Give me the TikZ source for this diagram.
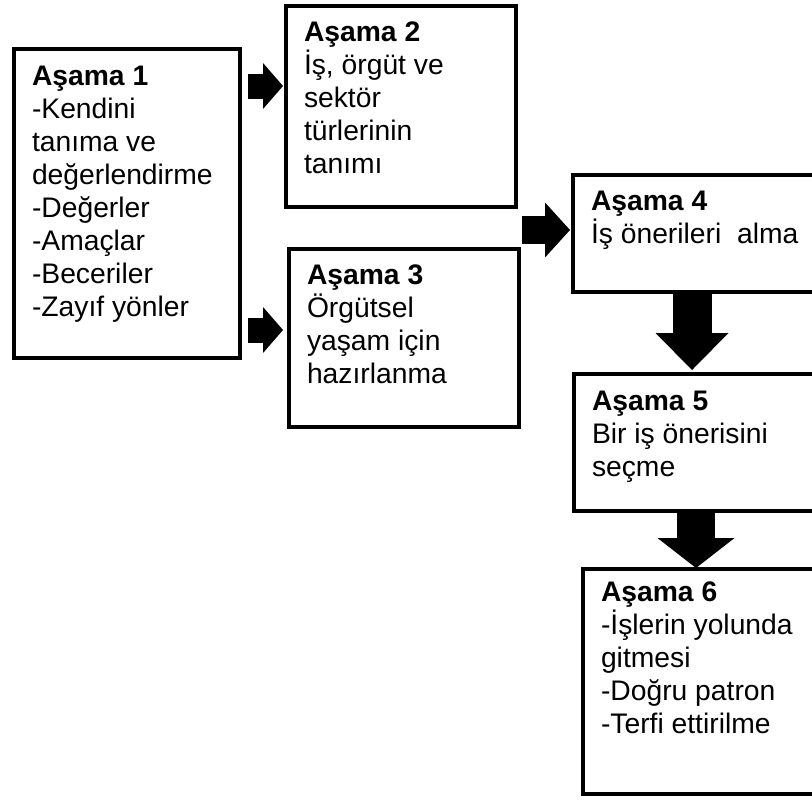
\documentclass[tikz,border=0pt]{standalone}
\usepackage{fontspec}
\setmainfont{Liberation Sans}
\usetikzlibrary{arrows.meta,calc,fit}
\begin{document}
\begin{tikzpicture}[x=0.75pt,y=-0.75pt,
  box/.style={draw=black, line width=3pt, inner sep=0pt, outer sep=0pt, rectangle},
  txt/.style={anchor=north west, inner sep=0pt, outer sep=0pt, align=left,
    font=\fontsize{21.2}{24.75}\selectfont}]
\useasboundingbox (0,0) rectangle (812,800);
\fill[white] (0,0) rectangle (812,800);
\clip (0,0) rectangle (812,800);
% boxes
\node[box, fit={(14,49)(240,358)}] (b1) {};
\node[box, fit={(286,6)(516,207)}] (b2) {};
\node[box, fit={(289,249)(519,427)}] (b3) {};
\node[box, fit={(573,175)(840,292)}] (b4) {};
\node[box, fit={(574,374)(840,511)}] (b5) {};
\node[box, fit={(583,569)(840,794)}] (b6) {};
% texts
\node[txt] (t1) at ($(b1.north west)+(18,17)$) {\textbf{Aşama 1}\\-Kendini\\tanıma ve\\değerlendirme\\-Değerler\\-Amaçlar\\-Beceriler\\-Zayıf yönler};
\node[txt] (t2) at ($(b2.north west)+(18,16)$) {\textbf{Aşama 2}\\İş, örgüt ve\\sektör\\türlerinin\\tanımı};
\node[txt] (t3) at ($(b3.north west)+(18,16)$) {\textbf{Aşama 3}\\Örgütsel\\yaşam için\\hazırlanma};
\node[txt] (t4) at ($(b4.north west)+(18,16)$) {\textbf{Aşama 4}\\İş önerileri\ \ alma};
\node[txt] (t5) at ($(b5.north west)+(18,17)$) {\textbf{Aşama 5}\\Bir iş önerisini\\seçme};
\node[txt] (t6) at ($(b6.north west)+(18,13)$) {\textbf{Aşama 6}\\-İşlerin yolunda\\gitmesi\\-Doğru patron\\-Terfi ettirilme};
% arrows
\coordinate (ya) at (0,86);
\coordinate (yb) at (0,330);
\coordinate (yc) at (0,230);
\draw[line width=18.75pt, -{Triangle[length=15pt, width=34.5pt, line width=0pt]}]
  ($(b1.east |- ya)+(8,0)$) -- ($(b2.west |- ya)+(-3,0)$);
\draw[line width=18.75pt, -{Triangle[length=15pt, width=34.5pt, line width=0pt]}]
  ($(b1.east |- yb)+(8,0)$) -- ($(b3.west |- yb)+(-6,0)$);
\draw[line width=21pt, -{Triangle[length=18.75pt, width=41.25pt, line width=0pt]}]
  ($(b3.east |- yc)+(3,0)$) -- ($(b4.west |- yc)+(-3,0)$);
\draw[line width=29.25pt, -{Triangle[length=27.75pt, width=54.75pt, line width=0pt]}]
  ($(b4.south west)+(119,1)$) -- ($(b5.north west)+(118,-4)$);
\draw[line width=28.5pt, -{Triangle[length=22.5pt, width=57.75pt, line width=0pt]}]
  ($(b5.south west)+(122,1)$) -- ($(b6.north west)+(113,-1)$);
\end{tikzpicture}
\end{document}
